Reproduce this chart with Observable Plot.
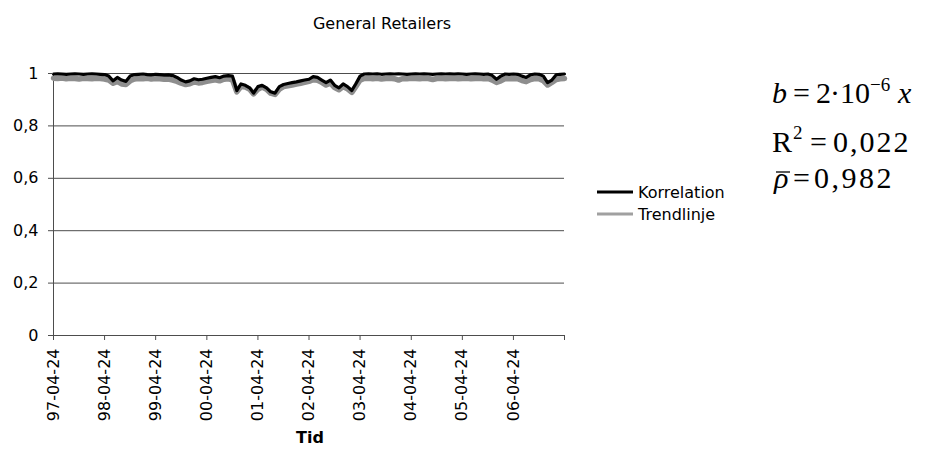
<!DOCTYPE html>
<html>
<head>
<meta charset="utf-8">
<script src="https://cdn.jsdelivr.net/npm/d3@7"></script>
<script src="https://cdn.jsdelivr.net/npm/@observablehq/plot@0.6"></script>
<style>
  html, body { margin: 0; padding: 0; background: #fff; }
  #chart { width: 927px; height: 450px; }
</style>
</head>
<body>
<div id="chart"></div>
<script>
// ---- Data (monthly readings, 1997-04-24 .. 2007-04-24) ----
const startDate = "1997-04-24";
const endDate = "2007-04-24";
const tickLabels = ["97-04-24","98-04-24","99-04-24","00-04-24","01-04-24","02-04-24","03-04-24","04-04-24","05-04-24","06-04-24",""];
const yTicks = [0, 0.2, 0.4, 0.6, 0.8, 1];

const korrelation = [
  0.998,0.999,0.998,0.997,0.998,0.999,0.998,0.997,0.998,0.999,0.998,0.997,0.996,0.990,
  0.972,0.985,0.975,0.970,0.990,
  0.996,0.997,0.998,0.996,0.995,0.997,0.996,0.994,0.995,0.992,
  0.985,0.975,0.968,0.972,0.980,0.976,0.978,0.982,
  0.985,0.988,0.984,0.990,0.992,0.990,
  0.935,0.960,0.955,0.945,0.925,0.950,0.955,0.945,0.930,0.925,0.950,
  0.958,0.962,0.965,0.968,0.972,0.975,0.978,
  0.988,0.985,0.975,0.965,0.975,0.955,0.945,0.960,0.950,0.935,0.960,0.990,
  0.998,0.999,0.998,0.999,0.997,0.998,0.999,0.998,0.999,0.998,0.997,0.998,
  0.999,0.998,0.999,0.998,0.997,0.998,0.999,0.998,0.999,0.998,0.999,0.998,
  0.997,0.998,0.999,0.998,0.997,0.998,0.992,0.978,0.990,0.998,0.997,0.998,
  0.997,0.990,0.985,0.995,0.998,0.997,0.990,0.965,0.975,0.995,0.997,0.998
];
const trendlinje = [
  0.982,0.981,0.983,0.980,0.982,0.981,0.979,0.982,0.981,0.980,0.982,0.981,0.979,0.975,
  0.963,0.970,0.960,0.958,0.972,
  0.979,0.981,0.980,0.982,0.979,0.981,0.980,0.978,0.979,0.975,
  0.970,0.963,0.958,0.961,0.968,0.964,0.966,0.970,
  0.973,0.976,0.972,0.978,0.980,0.976,
  0.930,0.950,0.948,0.940,0.922,0.940,0.948,0.940,0.925,0.920,0.940,
  0.950,0.953,0.956,0.960,0.963,0.966,0.970,
  0.976,0.974,0.966,0.956,0.963,0.946,0.938,0.950,0.941,0.928,0.950,0.975,
  0.981,0.982,0.980,0.982,0.979,0.981,0.982,0.980,0.975,0.981,0.980,0.982,
  0.981,0.980,0.982,0.981,0.977,0.981,0.982,0.980,0.981,0.982,0.980,0.981,
  0.982,0.980,0.981,0.982,0.980,0.981,0.975,0.966,0.972,0.981,0.980,0.981,
  0.980,0.973,0.969,0.977,0.981,0.980,0.972,0.956,0.966,0.977,0.980,0.981
];

// ---- Build table ----
const t0 = new Date(startDate + "T00:00:00Z");
const dates = korrelation.map((_, i) => new Date(Date.UTC(t0.getUTCFullYear(), t0.getUTCMonth() + i, 24)));
const rowsK = korrelation.map((v, i) => ({date: dates[i], value: v}));
const rowsT = trendlinje.map((v, i) => ({date: dates[i], value: v}));
const xTicks = tickLabels.map((_, i) => new Date(Date.UTC(t0.getUTCFullYear() + i, 3, 24)));
const labelOf = new Map(xTicks.map((d, i) => [+d, tickLabels[i]]));
const xDomain = [new Date(startDate + "T00:00:00Z"), new Date(endDate + "T00:00:00Z")];
const gridColor = "#4d4d4d";

const svg = Plot.plot({
  width: 927,
  height: 450,
  marginLeft: 53,
  marginRight: 363,
  marginTop: 73,
  marginBottom: 115,
  style: {fontFamily: "DejaVu Sans", fontSize: "16px", color: "#000", background: "#fff", overflow: "visible"},
  x: {type: "utc", domain: xDomain},
  y: {domain: [0, 1]},
  marks: [
    Plot.gridY(yTicks.filter(d => d > 0), {stroke: gridColor, strokeOpacity: 1, strokeWidth: 1}),
    Plot.ruleX([xDomain[0]], {y1: 0, y2: 1, stroke: gridColor, strokeWidth: 1}),
    Plot.ruleY([0], {stroke: gridColor, strokeWidth: 1}),
    Plot.line(rowsT, {x: "date", y: "value", stroke: "#8e8e8e", strokeWidth: 5.5, curve: "linear"}),
    Plot.line(rowsK, {x: "date", y: "value", stroke: "#000", strokeWidth: 3.2, curve: "linear"}),
    Plot.axisY(yTicks, {tickSize: 5, tickPadding: 10, stroke: gridColor, label: null,
      tickFormat: d => String(d).replace(".", ",")}),
    Plot.axisX(xTicks, {tickSize: 5, tickPadding: 8, tickRotate: -90, stroke: gridColor, label: null,
      tickFormat: d => labelOf.get(+d)})
  ]
});

const s = d3.select(svg);
const g = s.append("g").attr("text-anchor", "start");
// Title
g.append("text").attr("x", 382).attr("y", 29).attr("text-anchor", "middle")
  .attr("font-family", "DejaVu Sans").attr("font-size", 16).attr("fill", "#000").text("General Retailers");
// Axis title
g.append("text").attr("x", 310).attr("y", 443).attr("text-anchor", "middle")
  .attr("font-family", "DejaVu Sans").attr("font-weight", "bold").attr("font-size", 16).attr("fill", "#000").text("Tid");
// Legend
const legend = [["Korrelation", "#000", 192], ["Trendlinje", "#a0a0a0", 214]];
legend.forEach(([name, col, y]) => {
  g.append("line").attr("x1", 597).attr("x2", 633).attr("y1", y).attr("y2", y)
    .attr("stroke", col).attr("stroke-width", 3);
  g.append("text").attr("x", 638).attr("y", y).attr("dy", "0.35em").attr("text-anchor", "start")
    .attr("font-family", "DejaVu Sans").attr("font-size", 16).attr("fill", "#000").text(name);
});
// Formulas
const F = "Liberation Serif";
function txt(x, y, str, opts = {}) {
  g.append("text").attr("x", x).attr("y", y).attr("text-anchor", "start")
    .attr("font-family", F).attr("font-size", opts.size || 30)
    .attr("letter-spacing", opts.ls || 0)
    .attr("font-style", opts.italic ? "italic" : "normal").attr("fill", "#000").text(str);
}
// b = 2·10^-6 x
txt(772, 103, "b", {italic: true});
txt(793, 103, "=");
txt(816, 103, "2");
txt(830, 103, "\u00B7");
txt(840, 103, "10");
txt(870, 91, "\u22126", {size: 19});
txt(898, 103, "x", {italic: true});
// R^2 = 0,022
txt(772, 152, "R");
txt(793, 139, "2", {size: 19});
txt(810, 152, "=");
txt(833, 152, "0,022", {ls: 2});
// rho-bar = 0,982
txt(774, 188, "\u03C1", {italic: true});
g.append("line").attr("x1", 776).attr("x2", 790).attr("y1", 172).attr("y2", 172)
  .attr("stroke", "#000").attr("stroke-width", 1.3);
txt(793, 188, "=");
txt(814, 188, "0,982", {ls: 2.5});

document.getElementById("chart").appendChild(svg);
</script>
</body>
</html>
